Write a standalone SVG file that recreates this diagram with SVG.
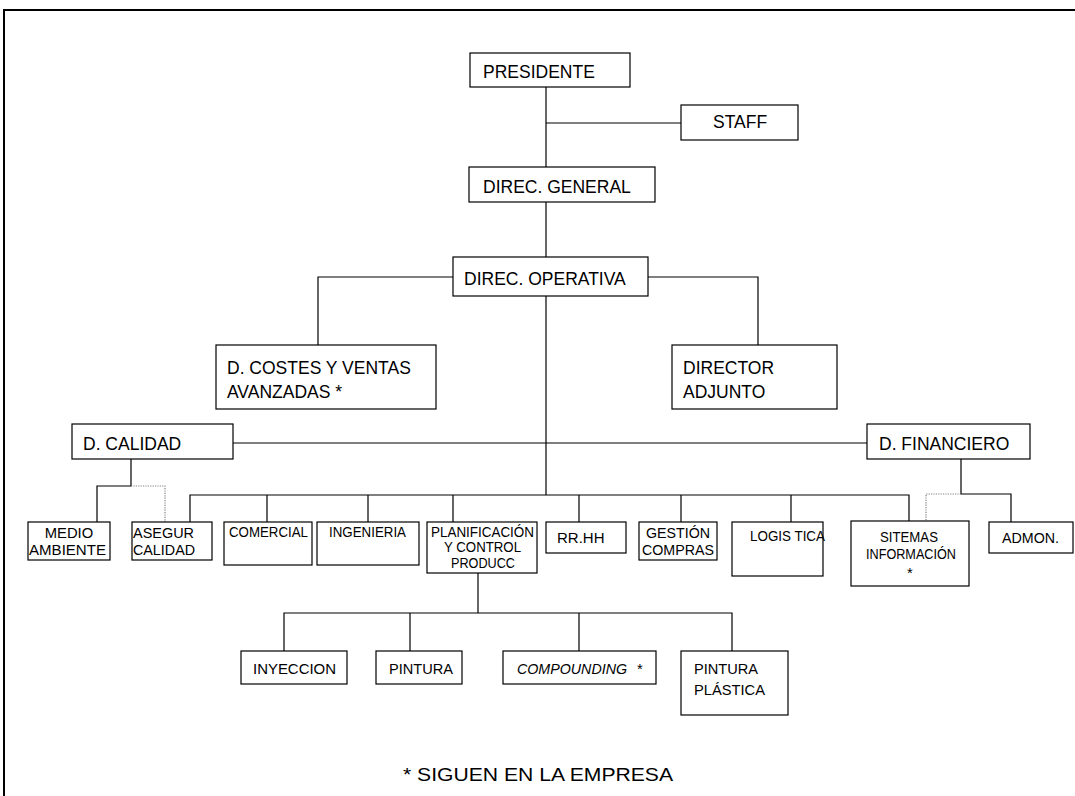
<svg xmlns="http://www.w3.org/2000/svg" width="1075" height="796" viewBox="0 0 1075 796">
  <style>
    .box { fill: #ffffff; stroke: #000000; stroke-width: 1.2; }
    .ln { fill: none; stroke: #000000; stroke-width: 1.2; }
    .dot { fill: none; stroke: #808080; stroke-width: 1.2; stroke-dasharray: 1.2 1.2; }
    .frame { fill: none; stroke: #000000; stroke-width: 2; }
    text { font-family: "Liberation Sans", Arial, sans-serif; fill: #000000; }
    .big { font-size: 17.5px; }
    .sm { font-size: 14.8px; }
    .mid { text-anchor: middle; }
    .it { font-style: italic; }
    .note { font-size: 18px; }
  </style>

  <!-- page frame -->
  <path class="frame" d="M4,796 V10 H1075"/>

  <!-- connectors -->
  <g id="connectors">
    <path class="ln" d="M546,87 V167"/>
    <path class="ln" d="M546,123 H681"/>
    <path class="ln" d="M546,202 V257"/>
    <path class="ln" d="M453,277 H318 V345"/>
    <path class="ln" d="M648,277 H758 V345"/>
    <path class="ln" d="M546,296 V495"/>
    <path class="ln" d="M233,443 H867"/>
    <!-- operational departments bus -->
    <path class="ln" d="M190,522 V495 H909 V521"/>
    <path class="ln" d="M267,495 V522 M368,495 V522 M453,495 V522 M579,495 V522 M681,495 V522 M791,495 V522"/>
    <!-- quality -->
    <path class="ln" d="M131,459 V486 H97 V522"/>
    <path class="dot" d="M131,486 H165 V522"/>
    <!-- finance -->
    <path class="ln" d="M961,459 V494 H1011 V522"/>
    <path class="dot" d="M961,494 H926 V521"/>
    <!-- production -->
    <path class="ln" d="M478,573 V613"/>
    <path class="ln" d="M284,651 V613 H732 V651 M410,613 V651 M579,613 V651"/>
  </g>

  <g id="presidente">
    <rect class="box" x="470" y="53" width="160" height="34"/>
    <text class="big" x="483" y="78">PRESIDENTE</text>
  </g>
  <g id="staff">
    <rect class="box" x="681" y="105" width="117" height="35"/>
    <text class="big" x="713" y="128">STAFF</text>
  </g>
  <g id="direc-general">
    <rect class="box" x="469" y="167" width="186" height="35"/>
    <text class="big" x="483" y="193">DIREC. GENERAL</text>
  </g>
  <g id="direc-operativa">
    <rect class="box" x="453" y="257" width="195" height="39"/>
    <text class="big" x="464" y="285">DIREC. OPERATIVA</text>
  </g>
  <g id="d-costes">
    <rect class="box" x="216" y="345" width="220" height="64"/>
    <text class="big" x="227" y="374">D. COSTES Y VENTAS</text>
    <text class="big" x="227" y="398">AVANZADAS *</text>
  </g>
  <g id="director-adjunto">
    <rect class="box" x="672" y="345" width="165" height="64"/>
    <text class="big" x="683" y="374">DIRECTOR</text>
    <text class="big" x="683" y="398">ADJUNTO</text>
  </g>
  <g id="d-calidad">
    <rect class="box" x="72" y="424" width="161" height="35"/>
    <text class="big" x="83" y="450">D. CALIDAD</text>
  </g>
  <g id="d-financiero">
    <rect class="box" x="867" y="424" width="163" height="35"/>
    <text class="big" x="879" y="450">D. FINANCIERO</text>
  </g>

  <g id="medio-ambiente">
    <rect class="box" x="28" y="522" width="82" height="38"/>
    <text class="sm mid" x="69" y="538">MEDIO</text>
    <text class="sm" x="29" y="555" textLength="77" lengthAdjust="spacingAndGlyphs">AMBIENTE</text>
  </g>
  <g id="asegur-calidad">
    <rect class="box" x="132" y="522" width="80" height="38"/>
    <text class="sm" x="133" y="538" textLength="61" lengthAdjust="spacingAndGlyphs">ASEGUR</text>
    <text class="sm" x="133" y="555" textLength="62" lengthAdjust="spacingAndGlyphs">CALIDAD</text>
  </g>
  <g id="comercial">
    <rect class="box" x="224" y="522" width="88" height="43"/>
    <text class="sm" x="229" y="537" textLength="79" lengthAdjust="spacingAndGlyphs">COMERCIAL</text>
  </g>
  <g id="ingenieria">
    <rect class="box" x="317" y="522" width="102" height="43"/>
    <text class="sm" x="329" y="537" textLength="77" lengthAdjust="spacingAndGlyphs">INGENIERIA</text>
  </g>
  <g id="planificacion">
    <rect class="box" x="427" y="522" width="110" height="51"/>
    <text class="sm" x="431" y="537" textLength="103" lengthAdjust="spacingAndGlyphs">PLANIFICACIÓN</text>
    <text class="sm" x="444" y="552" textLength="77" lengthAdjust="spacingAndGlyphs">Y CONTROL</text>
    <text class="sm" x="451" y="568" textLength="64" lengthAdjust="spacingAndGlyphs">PRODUCC</text>
  </g>
  <g id="rrhh">
    <rect class="box" x="546" y="522" width="80" height="31"/>
    <text class="sm" x="557" y="543" style="font-size:15px">RR.HH</text>
  </g>
  <g id="gestion-compras">
    <rect class="box" x="639" y="522" width="78" height="38"/>
    <text class="sm mid" x="678" y="538" textLength="64" lengthAdjust="spacingAndGlyphs">GESTIÓN</text>
    <text class="sm mid" x="678" y="555" textLength="72" lengthAdjust="spacingAndGlyphs">COMPRAS</text>
  </g>
  <g id="logistica">
    <rect class="box" x="732" y="522" width="91" height="54"/>
    <text class="sm" x="750" y="541" textLength="75" lengthAdjust="spacingAndGlyphs">LOGIS TICA</text>
  </g>
  <g id="sistemas-informacion">
    <rect class="box" x="851" y="521" width="118" height="65"/>
    <text class="sm" x="880" y="542" textLength="58" lengthAdjust="spacingAndGlyphs">SITEMAS</text>
    <text class="sm" x="866" y="559" textLength="90" lengthAdjust="spacingAndGlyphs">INFORMACIÓN</text>
    <text class="sm mid" x="910" y="578">*</text>
  </g>
  <g id="admon">
    <rect class="box" x="989" y="522" width="84" height="31"/>
    <text class="sm" x="1002" y="543" textLength="57" lengthAdjust="spacingAndGlyphs">ADMON.</text>
  </g>

  <g id="inyeccion">
    <rect class="box" x="241" y="651" width="106" height="33"/>
    <text class="sm" x="253" y="674" textLength="83" lengthAdjust="spacingAndGlyphs">INYECCION</text>
  </g>
  <g id="pintura">
    <rect class="box" x="376" y="651" width="86" height="33"/>
    <text class="sm" x="389" y="674" textLength="64" lengthAdjust="spacingAndGlyphs">PINTURA</text>
  </g>
  <g id="compounding">
    <rect class="box" x="503" y="651" width="153" height="33"/>
    <text class="sm it" x="517" y="674" textLength="110" lengthAdjust="spacingAndGlyphs">COMPOUNDING</text>
    <text class="sm" x="637" y="674">*</text>
  </g>
  <g id="pintura-plastica">
    <rect class="box" x="681" y="651" width="107" height="64"/>
    <text class="sm" x="694" y="674" textLength="64" lengthAdjust="spacingAndGlyphs">PINTURA</text>
    <text class="sm" x="694" y="695" textLength="71" lengthAdjust="spacingAndGlyphs">PLÁSTICA</text>
  </g>

  <text class="note" x="403" y="781" textLength="270" lengthAdjust="spacingAndGlyphs">* SIGUEN EN LA EMPRESA</text>
</svg>
